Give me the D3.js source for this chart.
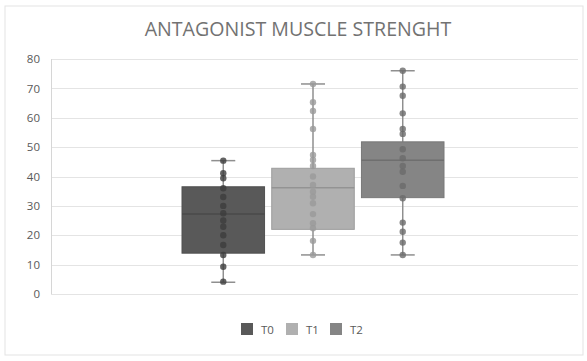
<!DOCTYPE html>
<html><head><meta charset="utf-8">
<script src="https://cdn.jsdelivr.net/npm/d3@7"></script>
<style>body{margin:0;background:#fff}svg{display:block}</style>
</head><body>
<script>
const title = "ANTAGONIST MUSCLE STRENGHT";
const series = ["T0", "T1", "T2"];
const yTicks = [0, 10, 20, 30, 40, 50, 60, 70, 80];
// box stats: [min, q1, median, q3, max]
const statsT0 = [4, 13.9, 27.2, 36.5, 45.4];
const statsT1 = [13.3, 22, 36.2, 42.8, 71.5];
const statsT2 = [13.3, 32.8, 45.5, 51.8, 76];
const pointsT0 = [45.4, 41.1, 39.4, 36, 33, 30, 27.5, 25, 22.9, 20, 16.7, 13.3, 9.3, 4.2];
const pointsT1 = [71.5, 65.3, 62.3, 56.2, 47.3, 45.6, 43.6, 40, 37.1, 34.8, 33.1, 30.9, 27.2, 24.1, 22.4, 18.1, 13.3];
const pointsT2 = [76, 70.6, 67.5, 61.5, 56.2, 54.5, 49.3, 46.2, 43.6, 41.6, 36.8, 32.6, 24.3, 21.2, 17.5, 13.3];
const fills = ["#595959", "#b0b0b0", "#858585"];
const dotFills = ["#3c3c3c", "#9a9a9a", "#6a6a6a"];

const stats = [statsT0, statsT1, statsT2];
const pts = [pointsT0, pointsT1, pointsT2];

const W = 587, H = 361;
const svg = d3.select("body").append("svg").attr("width", W).attr("height", H);
svg.append("rect").attr("x", 5).attr("y", 6).attr("width", 578).attr("height", 349)
  .attr("fill", "#fff").attr("stroke", "#e3e3e3").attr("stroke-width", 1);

const plotL = 51, plotR = 578;
const y = d3.scaleLinear().domain([0, 80]).range([294, 59]);
const x = d3.scaleBand().domain(series).range([182, 444]).paddingInner(0.08);

// gridlines
svg.append("g").selectAll("line").data(yTicks).join("line")
  .attr("x1", plotL).attr("x2", plotR)
  .attr("y1", d => Math.round(y(d)) + 0.5).attr("y2", d => Math.round(y(d)) + 0.5)
  .attr("stroke", "#e4e4e4").attr("stroke-width", 1);
// axis line
svg.append("line").attr("x1", plotL + 0.5).attr("x2", plotL + 0.5)
  .attr("y1", y(80)).attr("y2", y(0)).attr("stroke", "#d6d6d6");

const yAxis = d3.axisLeft(y).tickValues(yTicks).tickSize(0).tickPadding(0);
const ga = svg.append("g").attr("transform", "translate(40,0)").call(yAxis);
ga.select(".domain").remove();
ga.selectAll("text").attr("font-family", "'Open Sans', sans-serif").attr("font-size", 11.5)
  .attr("fill", "#595959");

series.forEach((s, i) => {
  const st = stats[i];
  const cx = x(s) + x.bandwidth() / 2;
  const g = svg.append("g");
  // whisker
  g.append("line").attr("x1", cx).attr("x2", cx).attr("y1", y(st[0])).attr("y2", y(st[4]))
    .attr("stroke", "#8f8f8f").attr("stroke-width", 1.5);
  [st[0], st[4]].forEach(v => {
    g.append("line").attr("x1", cx - 12).attr("x2", cx + 12).attr("y1", y(v)).attr("y2", y(v))
      .attr("stroke", "#8f8f8f").attr("stroke-width", 1.5);
  });
  g.append("rect").attr("x", x(s)).attr("width", x.bandwidth())
    .attr("y", y(st[3])).attr("height", y(st[1]) - y(st[3]))
    .attr("fill", fills[i]).attr("stroke", d3.color(fills[i]).darker(0.3)).attr("stroke-width", 1);
  g.append("line").attr("x1", x(s)).attr("x2", x(s) + x.bandwidth())
    .attr("y1", y(st[2])).attr("y2", y(st[2]))
    .attr("stroke", d3.color(fills[i]).darker(0.5)).attr("stroke-width", 1.5);
  g.selectAll("circle").data(pts[i]).join("circle")
    .attr("cx", cx).attr("cy", d => y(d)).attr("r", 3.2)
    .attr("fill", dotFills[i]).attr("fill-opacity", 0.8);
});

svg.append("text").attr("x", 298).attr("y", 36).attr("text-anchor", "middle")
  .attr("font-family", "'Open Sans', sans-serif").attr("font-size", 19.6)
  .attr("fill", "#727272").text(title);

// legend
const lx = [241, 286, 330];
series.forEach((s, i) => {
  svg.append("rect").attr("x", lx[i]).attr("y", 323).attr("width", 12).attr("height", 12)
    .attr("fill", fills[i]);
  svg.append("text").attr("x", lx[i] + 20).attr("y", 333.5)
    .attr("font-family", "'Open Sans', sans-serif").attr("font-size", 11.5)
    .attr("fill", "#595959").text(s);
});
</script>
</body></html>
